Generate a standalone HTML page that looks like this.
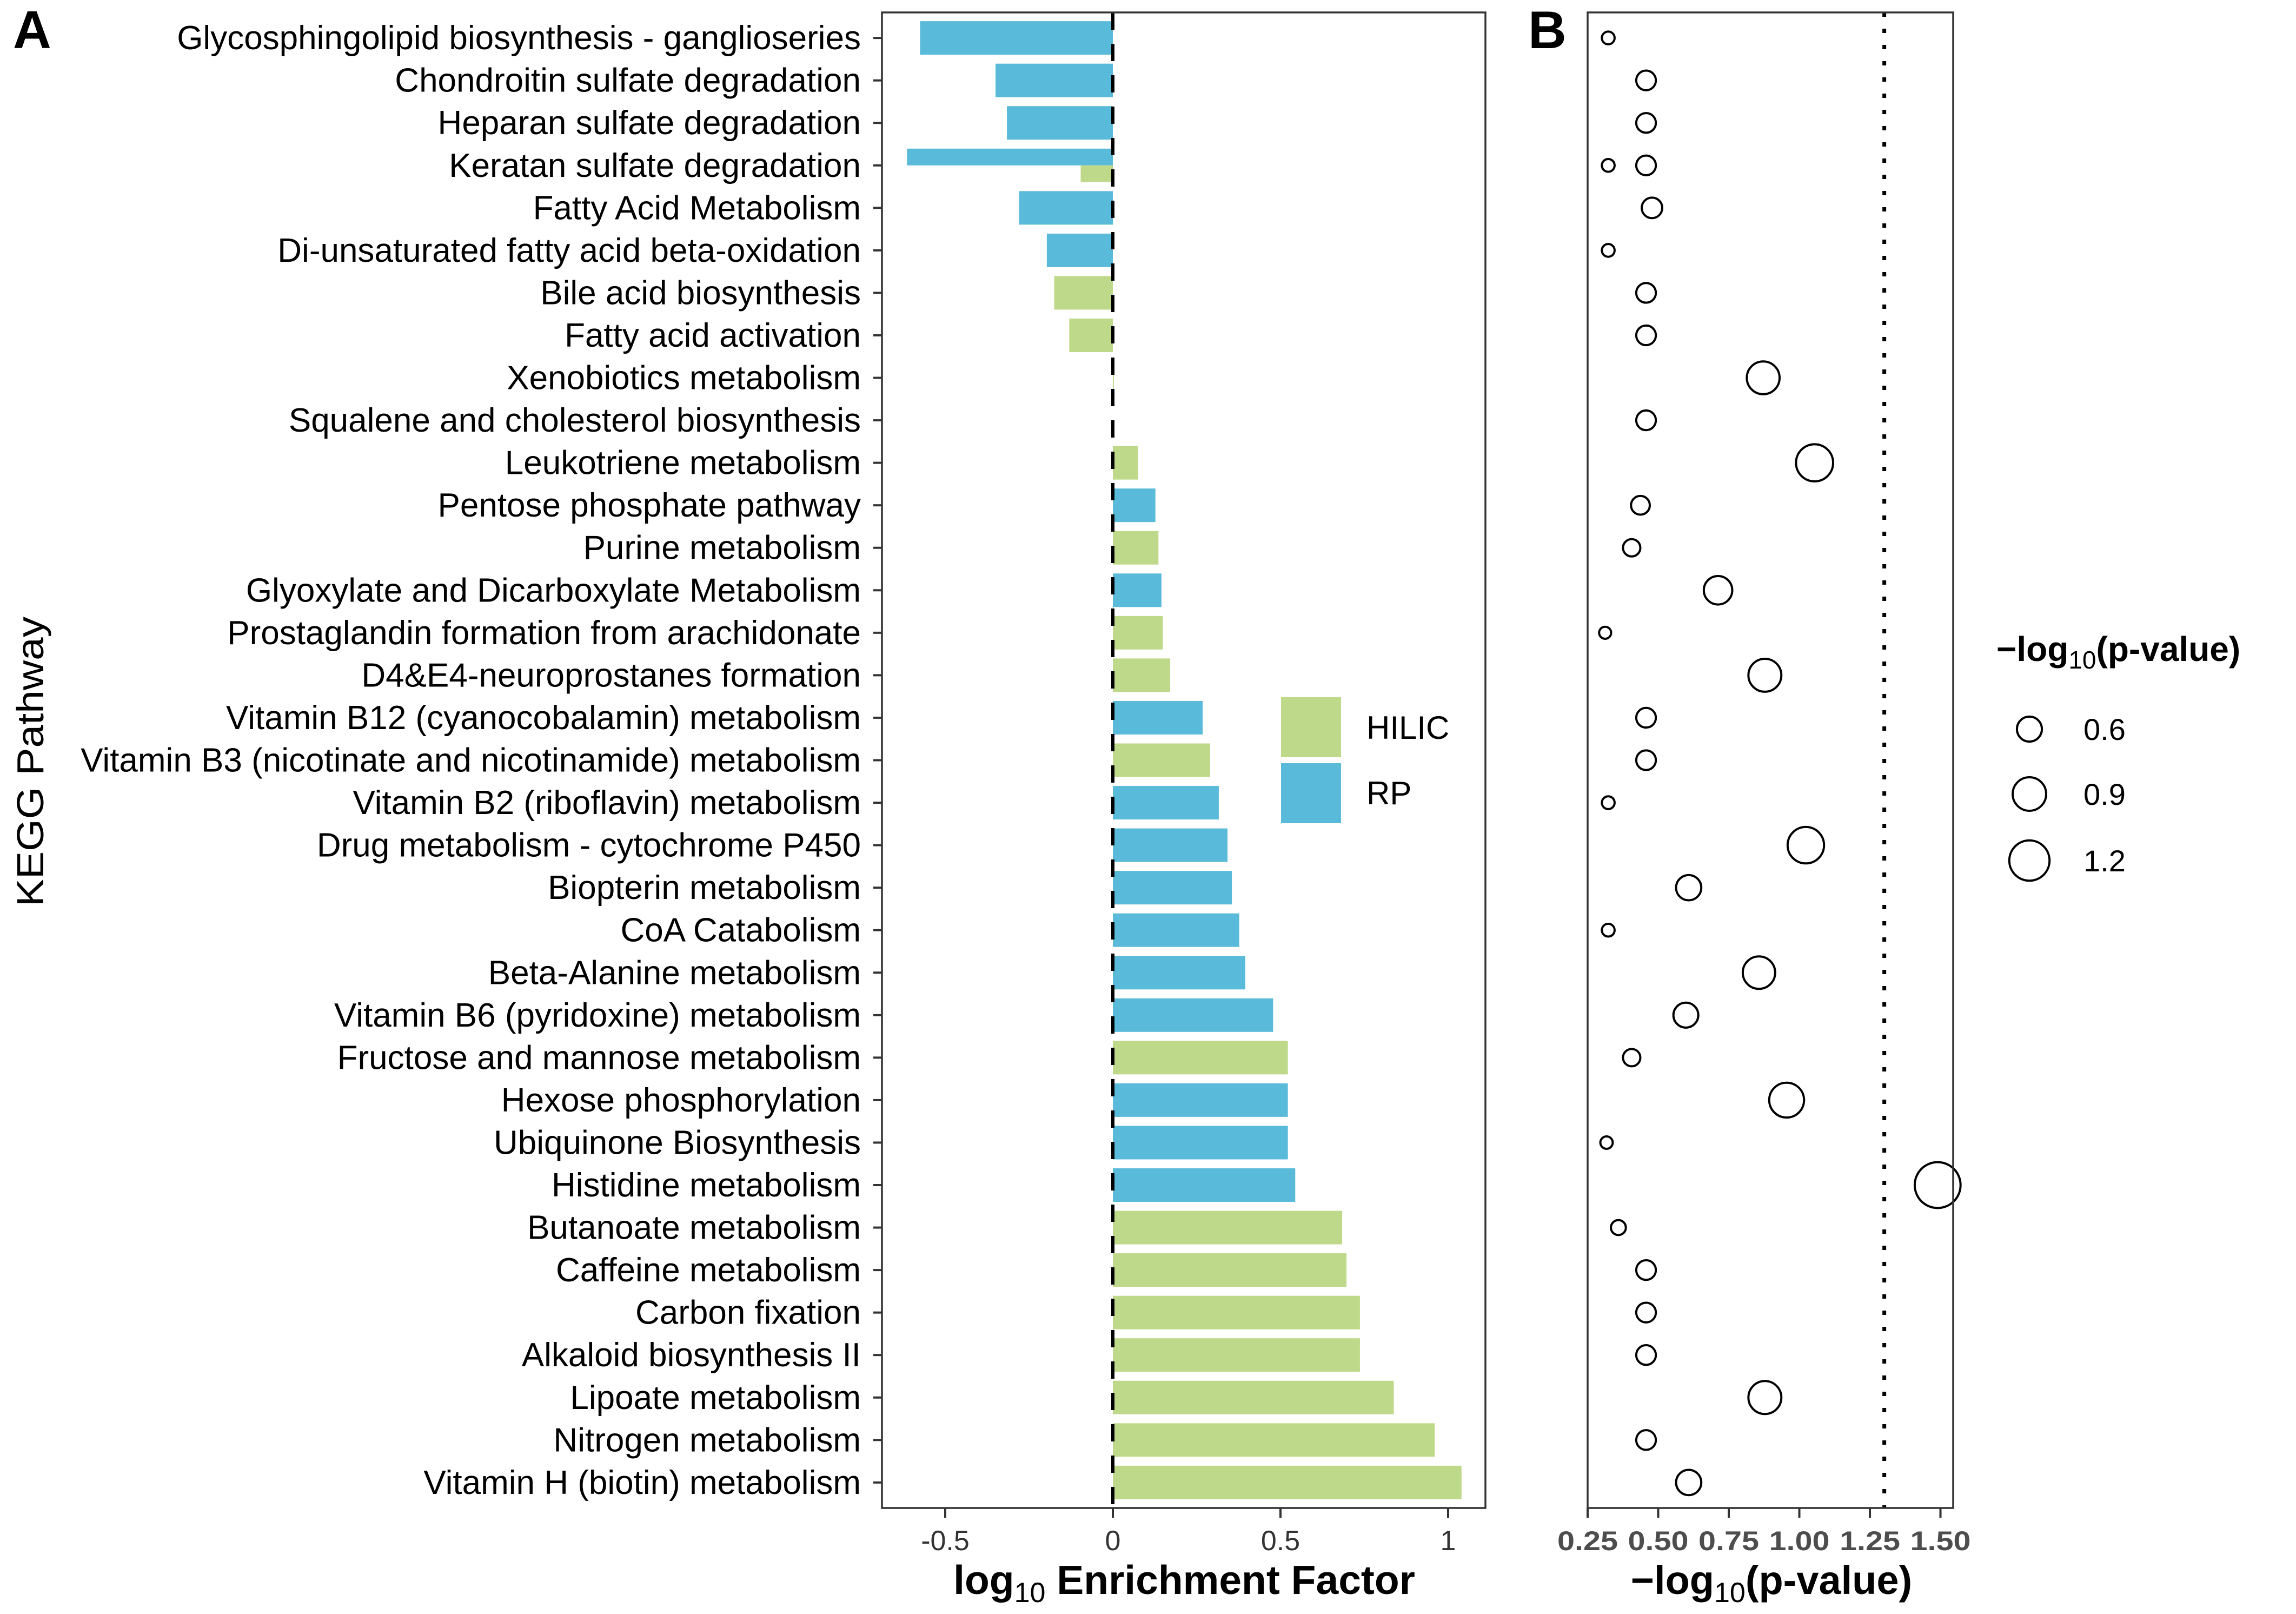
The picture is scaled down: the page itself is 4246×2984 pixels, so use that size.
<!DOCTYPE html>
<html><head><meta charset="utf-8">
<style>
html,body{margin:0;padding:0;background:#fff;}
svg{display:block;font-family:"Liberation Sans",Arial,sans-serif;}
</style></head>
<body>
<svg id="chart" xmlns="http://www.w3.org/2000/svg" width="4246" height="2984" viewBox="0 0 4246 2984">
<rect x="0" y="0" width="4246" height="2984" fill="#fff"/>
<g id="gA"></g>
<g id="gB"></g>
</svg>
<script>
const categories = ["Glycosphingolipid biosynthesis - ganglioseries","Chondroitin sulfate degradation","Heparan sulfate degradation","Keratan sulfate degradation","Fatty Acid Metabolism","Di-unsaturated fatty acid beta-oxidation","Bile acid biosynthesis","Fatty acid activation","Xenobiotics metabolism","Squalene and cholesterol biosynthesis","Leukotriene metabolism","Pentose phosphate pathway","Purine metabolism","Glyoxylate and Dicarboxylate Metabolism","Prostaglandin formation from arachidonate","D4&E4-neuroprostanes formation","Vitamin B12 (cyanocobalamin) metabolism","Vitamin B3 (nicotinate and nicotinamide) metabolism","Vitamin B2 (riboflavin) metabolism","Drug metabolism - cytochrome P450","Biopterin metabolism","CoA Catabolism","Beta-Alanine metabolism","Vitamin B6 (pyridoxine) metabolism","Fructose and mannose metabolism","Hexose phosphorylation","Ubiquinone Biosynthesis","Histidine metabolism","Butanoate metabolism","Caffeine metabolism","Carbon fixation","Alkaloid biosynthesis II","Lipoate metabolism","Nitrogen metabolism","Vitamin H (biotin) metabolism"];
const hilicValues = [null,null,null,-0.096,null,null,-0.175,-0.13,0.003,0,0.075,null,0.136,null,0.149,0.171,null,0.29,null,null,null,null,null,null,0.522,null,null,null,0.684,0.697,0.737,0.737,0.838,0.96,1.04];
const rpValues = [-0.575,-0.35,-0.316,-0.614,-0.28,-0.197,null,null,null,null,null,0.127,null,0.145,null,null,0.268,null,0.316,0.342,0.355,0.377,0.395,0.478,null,0.522,0.522,0.544,null,null,null,null,null,null,null];
const pvalPrimary = [0.323,0.457,0.457,0.323,0.478,0.323,0.457,0.457,0.872,0.457,1.054,0.437,0.406,0.712,0.312,0.878,0.457,0.457,0.323,1.023,0.608,0.323,0.857,0.598,0.406,0.955,0.317,1.49,0.359,0.457,0.457,0.457,0.878,0.457,0.608];
const pvalSecondary = [null,null,null,0.457,null,null,null,null,null,null,null,null,null,null,null,null,null,null,null,null,null,null,null,null,null,null,null,null,null,null,null,null,null,null,null];
const xTicksA = [-0.5,0,0.5,1];
const xTickLabelsA = ["-0.5","0","0.5","1"];
const xTicksB = [0.25,0.5,0.75,1.0,1.25,1.5];
const xTickLabelsB = ["0.25","0.50","0.75","1.00","1.25","1.50"];
const sizeLegendValues = [0.6,0.9,1.2];
const sizeLegendLabels = ["0.6","0.9","1.2"];
const thresholdValue = 1.30103;

const NS="http://www.w3.org/2000/svg";
function mk(parent,tag,attrs,text){const e=document.createElementNS(NS,tag);for(const k in attrs)e.setAttribute(k,attrs[k]);if(text!==undefined)e.textContent=text;parent.appendChild(e);return e;}

const pTop=23,pBottom=2788,unit=(pBottom-pTop)/(categories.length-1+1.2);
function yPos(i){return pTop+0.6*unit+i*unit;}
const PA={l:1631,r:2747};
function xA(v){return 2058+v*620;}
const PB={l:2936,r:3612};
function xB(v){return 2936+(v-0.25)*522;}
function rad(v){return Math.sqrt(121+(v-0.31)*1420);}
const GREEN="#BFD98A",BLUE="#5ABAD9";
const gA=document.getElementById('gA'), gB=document.getElementById('gB');
const barW=62;

categories.forEach((c,i)=>{
  const yc=yPos(i);
  const h=hilicValues[i], r=rpValues[i];
  const both=(h!==null&&r!==null);
  if(r!==null){
    const hh= both? barW/2 : barW;
    const el=mk(gA,'rect',{x:Math.min(xA(0),xA(r)),y:yc-barW/2,width:Math.abs(xA(r)-xA(0)),height:hh,fill:BLUE});
    
    
  }
  if(h!==null){
    const y0= both? yc : yc-barW/2, hh= both? barW/2 : barW;
    const el=mk(gA,'rect',{x:Math.min(xA(0),xA(h)),y:y0,width:Math.max(Math.abs(xA(h)-xA(0)),0.01),height:hh,fill:GREEN});
    
    
  }
  const lab=mk(gA,'text',{x:1592,y:yc+21,'text-anchor':'end','font-size':62,fill:'#000'},c);
  
  
  const tk=mk(gA,'line',{x1:1615,x2:1631,y1:yc,y2:yc,stroke:'#333','stroke-width':4});
  
  
});
const zl=mk(gA,'line',{x1:xA(0),x2:xA(0),y1:pTop,y2:pBottom,stroke:'#000','stroke-width':6,'stroke-dasharray':'32 26'});


const frA=mk(gA,'rect',{x:PA.l,y:pTop,width:PA.r-PA.l,height:pBottom-pTop,fill:'none',stroke:'#333','stroke-width':3.5});


xTicksA.forEach((t,i)=>{
  const tk=mk(gA,'line',{x1:xA(t),x2:xA(t),y1:pBottom,y2:pBottom+18,stroke:'#333','stroke-width':4});
  
  
  const tl=mk(gA,'text',{x:xA(t),y:2866,'text-anchor':'middle','font-size':52,fill:'#333'},xTickLabelsA[i]);
  
  
});
const lg=mk(gA,'g',{});


mk(lg,'rect',{x:2369,y:1289,width:111,height:111,fill:GREEN,});
mk(lg,'rect',{x:2369,y:1411,width:111,height:111,fill:BLUE,});
mk(lg,'text',{x:2527,y:1366,'font-size':60,},'HILIC');
mk(lg,'text',{x:2527,y:1487,'font-size':60,},'RP');
const tA=mk(gA,'text',{x:2190,y:2947,'text-anchor':'middle','font-size':75,'font-weight':'bold'});


mk(tA,'tspan',{},'log');
mk(tA,'tspan',{dy:15,'font-size':52,'font-weight':'normal'},'10');
mk(tA,'tspan',{dy:-15},' Enrichment Factor');
const yt=mk(gA,'text',{x:0,y:0,transform:'translate(80,1408) rotate(-90)','text-anchor':'middle','font-size':70,textLength:536,lengthAdjust:'spacingAndGlyphs'},'KEGG Pathway');


const la=mk(gA,'text',{x:24,y:89,'font-size':98,'font-weight':'bold'},'A');



const th=mk(gB,'line',{x1:xB(thresholdValue),x2:xB(thresholdValue),y1:pTop,y2:pBottom,stroke:'#000','stroke-width':7,'stroke-dasharray':'8 22'});


categories.forEach((c,i)=>{
  [pvalPrimary[i],pvalSecondary[i]].forEach(v=>{
    if(v===null)return;
    const ci=mk(gB,'circle',{cx:xB(v),cy:yPos(i),r:rad(v),fill:'none',stroke:'#000','stroke-width':4});
    
    
  });
});
const frB=mk(gB,'rect',{x:PB.l,y:pTop,width:PB.r-PB.l,height:pBottom-pTop,fill:'none',stroke:'#333','stroke-width':3.5});


xTicksB.forEach((t,i)=>{
  const tk=mk(gB,'line',{x1:xB(t),x2:xB(t),y1:pBottom,y2:pBottom+18,stroke:'#333','stroke-width':4});
  
  
  const tl=mk(gB,'text',{x:xB(t),y:2866,'text-anchor':'middle','font-size':50,'font-weight':'bold',fill:'#4D4D4D',textLength:112,lengthAdjust:'spacingAndGlyphs'},xTickLabelsB[i]);
  
  
});
const tB=mk(gB,'text',{x:3276,y:2947,'text-anchor':'middle','font-size':74,'font-weight':'bold'});


mk(tB,'tspan',{},'\u2212log');
mk(tB,'tspan',{dy:15,'font-size':52,'font-weight':'normal'},'10');
mk(tB,'tspan',{dy:-15},'(p-value)');
const lb=mk(gB,'text',{x:2826,y:89,'font-size':98,'font-weight':'bold'},'B');


const sl=mk(gB,'g',{});


const slt=mk(sl,'text',{x:3692,y:1222,'font-size':64,'font-weight':'bold'});


mk(slt,'tspan',{},'\u2212log');
mk(slt,'tspan',{dy:14,'font-size':46,'font-weight':'normal'},'10');
mk(slt,'tspan',{dy:-14},'(p-value)');
const lys=[1348,1468,1591];
sizeLegendValues.forEach((v,i)=>{
  const c=mk(sl,'circle',{cx:3753,cy:lys[i],r:rad(v),fill:'none',stroke:'#000','stroke-width':4});
  
  
  const t=mk(sl,'text',{x:3853,y:lys[i]+20,'font-size':56},sizeLegendLabels[i]);
  
  
});
</script>
</body></html>
